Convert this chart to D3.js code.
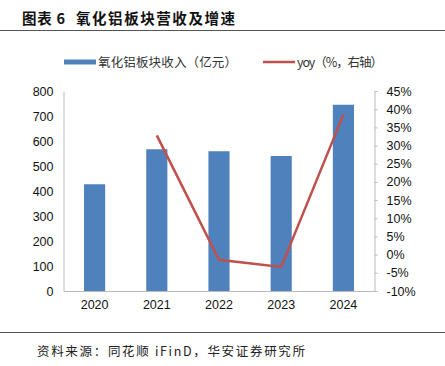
<!DOCTYPE html>
<html><head><meta charset="utf-8">
<script src="https://cdn.jsdelivr.net/npm/d3@7"></script>
<style>body{margin:0;background:#fff}svg{display:block}</style>
</head><body>
<svg id="c" width="445" height="366"></svg>
<script>
const years = ["2020","2021","2022","2023","2024"];
const revenue = [427, 567, 559, 540, 745];
const yoy = [null, 32.8, -1.4, -3.4, 38.5];
const leftTicks = [0,100,200,300,400,500,600,700,800];
const rightTicks = [-10,-5,0,5,10,15,20,25,30,35,40,45];
const titleNum = "图表 6";
const titleText = "氧化铝板块营收及增速";
const legendBar = "氧化铝板块收入（亿元）";
const legendLine = "yoy（%，右轴）";
const sourceText = "资料来源：同花顺 iFinD，华安证券研究所";

const svg = d3.select("#c");
const cjk = "'Noto Sans CJK SC', sans-serif";
const lat = "'Liberation Sans', Arial, sans-serif";
const m = {l:63.5, r:374.5, t:91, b:291};

svg.append("text").attr("x",22).attr("y",24).text(titleNum)
  .attr("font-family",cjk).attr("font-weight","bold").attr("font-size",14.5).attr("fill","#111")
  .attr("textLength",43).attr("lengthAdjust","spacing");
svg.append("text").attr("x",76).attr("y",24).text(titleText)
  .attr("font-family",cjk).attr("font-weight","bold").attr("font-size",14.5).attr("fill","#111")
  .attr("textLength",159).attr("lengthAdjust","spacing");
svg.append("line").attr("x1",0).attr("x2",445).attr("y1",30.5).attr("y2",30.5).attr("stroke","#555").attr("stroke-width",1);
svg.append("line").attr("x1",0).attr("x2",445).attr("y1",332.5).attr("y2",332.5).attr("stroke","#555").attr("stroke-width",1);
svg.append("text").attr("x",37).attr("y",356).text(sourceText)
  .attr("font-family",cjk).attr("font-size",12.5).attr("fill","#222")
  .attr("textLength",268).attr("lengthAdjust","spacing");

const x = d3.scaleBand().domain(years).range([m.l,m.r]).paddingInner(0.66).paddingOuter(0.33);
const y = d3.scaleLinear().domain([0,800]).range([m.b,m.t]);
const y2 = d3.scaleLinear().domain([-10,45]).range([m.b,m.t]);

// legend
svg.append("rect").attr("x",64).attr("y",59.5).attr("width",32).attr("height",5).attr("fill","#4F81BD");
svg.append("text").attr("x",98).attr("y",66.5).text(legendBar).attr("font-family",cjk).attr("font-size",12.5).attr("fill","#333")
  .attr("textLength",139).attr("lengthAdjust","spacing");
svg.append("line").attr("x1",263).attr("x2",295).attr("y1",62).attr("y2",62).attr("stroke","#C0504D").attr("stroke-width",2.5);
svg.append("text").attr("x",297).attr("y",66.5).text(legendLine).attr("font-family",cjk).attr("font-size",12.5).attr("fill","#333")
  .attr("textLength",86).attr("lengthAdjust","spacing");

// bars
svg.append("g").selectAll("rect").data(years).join("rect")
  .attr("x",d=>x(d)).attr("width",x.bandwidth())
  .attr("y",(d,i)=>y(revenue[i])).attr("height",(d,i)=>y(0)-y(revenue[i]))
  .attr("fill","#4F81BD");

// axes
const gl = svg.append("g").attr("transform",`translate(${m.l},0)`)
  .call(d3.axisLeft(y).tickValues(leftTicks).tickSize(0).tickPadding(10));
const gr = svg.append("g").attr("transform",`translate(${m.r},0)`)
  .call(d3.axisRight(y2).tickValues(rightTicks).tickSize(3).tickPadding(9).tickFormat(d=>d+"%"));
const gb = svg.append("g").attr("transform",`translate(0,${m.b})`)
  .call(d3.axisBottom(x).tickSize(0).tickPadding(9));
[gl,gr,gb].forEach(g=>{
  g.select(".domain").attr("stroke","#bbb");
  g.selectAll(".tick line").attr("stroke","#bbb");
  g.selectAll("text").attr("font-family",lat).attr("font-size",12.5).attr("fill","#111");
});

// line
const pts = years.map((d,i)=>[d,yoy[i]]).filter(p=>p[1]!==null);
svg.append("path").datum(pts)
  .attr("d",d3.line().x(p=>x(p[0])+x.bandwidth()/2).y(p=>y2(p[1])))
  .attr("fill","none").attr("stroke","#C0504D").attr("stroke-width",2.5);
</script>
</body></html>
